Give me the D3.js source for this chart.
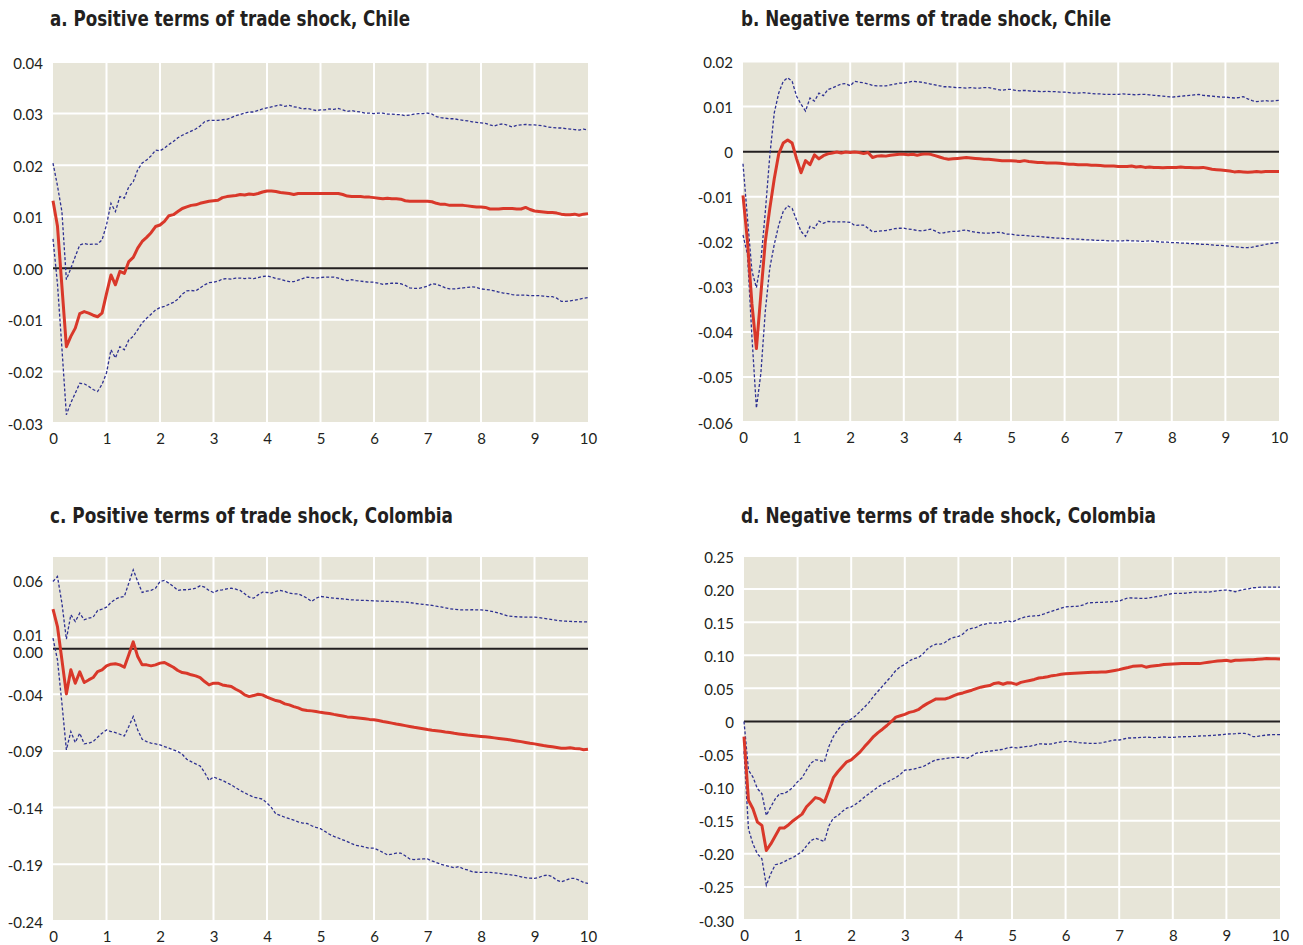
<!DOCTYPE html>
<html>
<head>
<meta charset="utf-8">
<script src="https://cdn.jsdelivr.net/npm/d3@7"></script>
<style>
  body { margin: 0; background: #ffffff; }
  svg { display: block; }
  .title { font-family: "Liberation Sans Narrow", "DejaVu Sans Condensed", "DejaVu Sans", sans-serif; font-stretch: condensed; font-weight: bold; font-size: 21px; fill: #231f20; }
  .tick text { font-family: Lato, "Open Sans", sans-serif; font-size: 15px; fill: #231f20; }
</style>
</head>
<body>
<svg id="chart" width="1303" height="945"></svg>
<script>
// Horizon in months after the shock (0 to 10 years)
const horizonMonths = d3.range(0, 121);
const yearTicks = [0, 1, 2, 3, 4, 5, 6, 7, 8, 9, 10];
const yearTickLabels = ["0", "1", "2", "3", "4", "5", "6", "7", "8", "9", "10"];

const titles = [
  "a. Positive terms of trade shock, Chile",
  "b. Negative terms of trade shock, Chile",
  "c. Positive terms of trade shock, Colombia",
  "d. Negative terms of trade shock, Colombia"
];

// y-axis ticks and their printed labels
const ticksA = [-0.03, -0.02, -0.01, 0.00, 0.01, 0.02, 0.03, 0.04];
const tickLabelsA = ["-0.03", "-0.02", "-0.01", "0.00", "0.01", "0.02", "0.03", "0.04"];
const ticksB = [-0.06, -0.05, -0.04, -0.03, -0.02, -0.01, 0, 0.01, 0.02];
const tickLabelsB = ["-0.06", "-0.05", "-0.04", "-0.03", "-0.02", "-0.01", "0", "0.01", "0.02"];
const ticksC = [-0.24, -0.19, -0.14, -0.09, -0.04, 0.00, 0.01, 0.06];
const tickLabelsC = ["-0.24", "-0.19", "-0.14", "-0.09", "-0.04", "0.00", "0.01", "0.06"];
const ticksD = [-0.30, -0.25, -0.20, -0.15, -0.10, -0.05, 0, 0.05, 0.10, 0.15, 0.20, 0.25];
const tickLabelsD = ["-0.30", "-0.25", "-0.20", "-0.15", "-0.10", "-0.05", "0", "0.05", "0.10", "0.15", "0.20", "0.25"];

// a. Positive shock, Chile: response and confidence bands
const chilePosResponse = [
  0.0131, 0.0082, -0.0035, -0.0152, -0.0132, -0.0116, -0.0088, -0.0084, -0.0087, -0.0091, -0.0094, -0.0087,
  -0.0049, -0.0013, -0.0032, -0.0006, -0.0010, 0.0013, 0.0021, 0.0039, 0.0052, 0.0060, 0.0069, 0.0081,
  0.0084, 0.0091, 0.0102, 0.0104, 0.0110, 0.0116, 0.0119, 0.0122, 0.0123, 0.0126, 0.0128, 0.0130,
  0.0131, 0.0132, 0.0137, 0.0139, 0.0140, 0.0141, 0.0143, 0.0142, 0.0144, 0.0143, 0.0145, 0.0148,
  0.0150, 0.0150, 0.0149, 0.0147, 0.0146, 0.0145, 0.0143, 0.0145, 0.0145, 0.0145, 0.0145, 0.0145,
  0.0145, 0.0145, 0.0145, 0.0145, 0.0145, 0.0143, 0.0140, 0.0139, 0.0139, 0.0139, 0.0138, 0.0138,
  0.0137, 0.0136, 0.0135, 0.0136, 0.0135, 0.0135, 0.0134, 0.0131, 0.0130, 0.0130, 0.0130, 0.0130,
  0.0130, 0.0129, 0.0126, 0.0124, 0.0124, 0.0122, 0.0122, 0.0122, 0.0122, 0.0121, 0.0120, 0.0119,
  0.0119, 0.0118, 0.0115, 0.0115, 0.0115, 0.0116, 0.0116, 0.0116, 0.0115, 0.0115, 0.0118, 0.0114,
  0.0111, 0.0110, 0.0109, 0.0108, 0.0108, 0.0107, 0.0105, 0.0104, 0.0104, 0.0105, 0.0103, 0.0105,
  0.0106
];
const chilePosUpper = [
  0.0204, 0.0160, 0.0110, -0.0022, 0.0000, 0.0023, 0.0045, 0.0048, 0.0046, 0.0047, 0.0047, 0.0055,
  0.0084, 0.0126, 0.0110, 0.0139, 0.0136, 0.0158, 0.0168, 0.0191, 0.0204, 0.0210, 0.0218, 0.0229,
  0.0228, 0.0233, 0.0240, 0.0246, 0.0253, 0.0258, 0.0262, 0.0266, 0.0270, 0.0276, 0.0284, 0.0287,
  0.0287, 0.0287, 0.0288, 0.0289, 0.0292, 0.0296, 0.0298, 0.0301, 0.0303, 0.0303, 0.0306, 0.0309,
  0.0311, 0.0313, 0.0315, 0.0317, 0.0314, 0.0316, 0.0313, 0.0312, 0.0309, 0.0310, 0.0308, 0.0306,
  0.0307, 0.0307, 0.0309, 0.0308, 0.0310, 0.0307, 0.0304, 0.0306, 0.0304, 0.0303, 0.0301, 0.0301,
  0.0300, 0.0301, 0.0301, 0.0299, 0.0299, 0.0298, 0.0298, 0.0296, 0.0297, 0.0299, 0.0300, 0.0300,
  0.0301, 0.0299, 0.0294, 0.0292, 0.0291, 0.0290, 0.0290, 0.0288, 0.0287, 0.0286, 0.0284, 0.0283,
  0.0282, 0.0281, 0.0278, 0.0276, 0.0279, 0.0280, 0.0277, 0.0274, 0.0277, 0.0278, 0.0279, 0.0278,
  0.0278, 0.0277, 0.0276, 0.0274, 0.0273, 0.0272, 0.0272, 0.0271, 0.0270, 0.0269, 0.0268, 0.0270,
  0.0268
];
const chilePosLower = [
  0.0057, -0.0030, -0.0155, -0.0284, -0.0261, -0.0242, -0.0223, -0.0224, -0.0229, -0.0235, -0.0239, -0.0225,
  -0.0203, -0.0158, -0.0174, -0.0152, -0.0158, -0.0139, -0.0132, -0.0119, -0.0106, -0.0097, -0.0089, -0.0081,
  -0.0076, -0.0074, -0.0070, -0.0066, -0.0060, -0.0050, -0.0044, -0.0043, -0.0044, -0.0038, -0.0032, -0.0028,
  -0.0027, -0.0025, -0.0021, -0.0020, -0.0021, -0.0019, -0.0019, -0.0020, -0.0019, -0.0020, -0.0018, -0.0016,
  -0.0015, -0.0017, -0.0020, -0.0021, -0.0024, -0.0026, -0.0026, -0.0023, -0.0020, -0.0017, -0.0018, -0.0019,
  -0.0018, -0.0017, -0.0017, -0.0017, -0.0019, -0.0022, -0.0024, -0.0022, -0.0024, -0.0025, -0.0026, -0.0027,
  -0.0027, -0.0029, -0.0031, -0.0030, -0.0029, -0.0029, -0.0030, -0.0033, -0.0038, -0.0039, -0.0039, -0.0037,
  -0.0035, -0.0030, -0.0031, -0.0034, -0.0038, -0.0040, -0.0040, -0.0039, -0.0038, -0.0037, -0.0036, -0.0037,
  -0.0040, -0.0041, -0.0042, -0.0044, -0.0046, -0.0048, -0.0049, -0.0051, -0.0052, -0.0052, -0.0052, -0.0053,
  -0.0053, -0.0053, -0.0054, -0.0055, -0.0055, -0.0058, -0.0064, -0.0064, -0.0063, -0.0062, -0.0060, -0.0058,
  -0.0057
];

// b. Negative shock, Chile
const chileNegResponse = [
  -0.0097, -0.0199, -0.0338, -0.0437, -0.0316, -0.0199, -0.0126, -0.0060, -0.0005, 0.0019, 0.0026, 0.0019,
  -0.0016, -0.0047, -0.0020, -0.0029, -0.0007, -0.0016, -0.0009, -0.0005, -0.0003, -0.0001, -0.0003, -0.0001,
  -0.0002, -0.0001, -0.0002, -0.0004, -0.0002, -0.0013, -0.0010, -0.0009, -0.0010, -0.0008, -0.0007, -0.0006,
  -0.0006, -0.0007, -0.0006, -0.0008, -0.0006, -0.0005, -0.0006, -0.0009, -0.0012, -0.0015, -0.0017, -0.0016,
  -0.0015, -0.0014, -0.0013, -0.0014, -0.0015, -0.0016, -0.0017, -0.0017, -0.0018, -0.0019, -0.0020, -0.0020,
  -0.0020, -0.0021, -0.0022, -0.0020, -0.0022, -0.0023, -0.0024, -0.0024, -0.0025, -0.0025, -0.0025, -0.0026,
  -0.0027, -0.0028, -0.0028, -0.0029, -0.0029, -0.0029, -0.0030, -0.0030, -0.0031, -0.0032, -0.0032, -0.0032,
  -0.0033, -0.0033, -0.0033, -0.0032, -0.0034, -0.0033, -0.0035, -0.0034, -0.0035, -0.0035, -0.0036, -0.0035,
  -0.0035, -0.0035, -0.0034, -0.0035, -0.0035, -0.0036, -0.0036, -0.0035, -0.0037, -0.0039, -0.0040, -0.0041,
  -0.0042, -0.0043, -0.0045, -0.0044, -0.0045, -0.0046, -0.0045, -0.0044, -0.0045, -0.0044, -0.0044, -0.0044,
  -0.0044
];
const chileNegUpper = [
  -0.0027, -0.0148, -0.0265, -0.0302, -0.0243, -0.0133, -0.0009, 0.0086, 0.0130, 0.0156, 0.0164, 0.0156,
  0.0123, 0.0105, 0.0090, 0.0119, 0.0112, 0.0130, 0.0124, 0.0138, 0.0141, 0.0146, 0.0150, 0.0151,
  0.0146, 0.0156, 0.0154, 0.0153, 0.0150, 0.0147, 0.0146, 0.0146, 0.0146, 0.0148, 0.0150, 0.0152,
  0.0152, 0.0154, 0.0156, 0.0155, 0.0154, 0.0152, 0.0150, 0.0148, 0.0146, 0.0144, 0.0144, 0.0143,
  0.0142, 0.0142, 0.0141, 0.0142, 0.0141, 0.0141, 0.0142, 0.0142, 0.0140, 0.0138, 0.0136, 0.0138,
  0.0138, 0.0136, 0.0135, 0.0136, 0.0135, 0.0134, 0.0134, 0.0133, 0.0134, 0.0133, 0.0133, 0.0132,
  0.0132, 0.0131, 0.0130, 0.0130, 0.0131, 0.0130, 0.0129, 0.0128, 0.0128, 0.0127, 0.0127, 0.0127,
  0.0127, 0.0128, 0.0127, 0.0127, 0.0126, 0.0127, 0.0127, 0.0126, 0.0125, 0.0124, 0.0123, 0.0122,
  0.0121, 0.0122, 0.0123, 0.0124, 0.0125, 0.0126, 0.0127, 0.0125, 0.0124, 0.0123, 0.0122, 0.0121,
  0.0121, 0.0120, 0.0119, 0.0120, 0.0122, 0.0117, 0.0113, 0.0111, 0.0112, 0.0113, 0.0112, 0.0113,
  0.0114
];
const chileNegLower = [
  -0.0185, -0.0228, -0.0411, -0.0569, -0.0492, -0.0353, -0.0258, -0.0206, -0.0163, -0.0133, -0.0120, -0.0126,
  -0.0152, -0.0177, -0.0188, -0.0166, -0.0170, -0.0154, -0.0159, -0.0155, -0.0156, -0.0156, -0.0156, -0.0156,
  -0.0157, -0.0164, -0.0163, -0.0163, -0.0170, -0.0178, -0.0177, -0.0176, -0.0175, -0.0173, -0.0171, -0.0170,
  -0.0170, -0.0172, -0.0173, -0.0175, -0.0176, -0.0174, -0.0172, -0.0176, -0.0181, -0.0180, -0.0178, -0.0177,
  -0.0177, -0.0175, -0.0174, -0.0177, -0.0179, -0.0180, -0.0181, -0.0181, -0.0180, -0.0179, -0.0180, -0.0183,
  -0.0183, -0.0185, -0.0186, -0.0186, -0.0187, -0.0188, -0.0188, -0.0189, -0.0190, -0.0191, -0.0192, -0.0192,
  -0.0193, -0.0193, -0.0194, -0.0194, -0.0195, -0.0196, -0.0196, -0.0197, -0.0197, -0.0197, -0.0198, -0.0198,
  -0.0198, -0.0198, -0.0197, -0.0198, -0.0198, -0.0199, -0.0199, -0.0198, -0.0199, -0.0200, -0.0201, -0.0201,
  -0.0202, -0.0202, -0.0203, -0.0203, -0.0204, -0.0204, -0.0205, -0.0206, -0.0206, -0.0207, -0.0208, -0.0208,
  -0.0209, -0.0210, -0.0211, -0.0212, -0.0213, -0.0213, -0.0212, -0.0210, -0.0208, -0.0206, -0.0204, -0.0203,
  -0.0202
];

// c. Positive shock, Colombia
const colombiaPosResponse = [
  0.0350, 0.0197, -0.0097, -0.0397, -0.0185, -0.0303, -0.0203, -0.0297, -0.0274, -0.0253, -0.0200, -0.0185,
  -0.0150, -0.0135, -0.0132, -0.0141, -0.0162, -0.0053, 0.0062, -0.0068, -0.0141, -0.0141, -0.0150, -0.0141,
  -0.0126, -0.0120, -0.0141, -0.0162, -0.0191, -0.0209, -0.0215, -0.0229, -0.0238, -0.0253, -0.0288, -0.0318,
  -0.0303, -0.0303, -0.0318, -0.0326, -0.0332, -0.0356, -0.0376, -0.0406, -0.0421, -0.0412, -0.0400, -0.0406,
  -0.0426, -0.0441, -0.0456, -0.0465, -0.0485, -0.0494, -0.0509, -0.0521, -0.0538, -0.0544, -0.0547, -0.0553,
  -0.0560, -0.0565, -0.0570, -0.0578, -0.0585, -0.0592, -0.0600, -0.0603, -0.0607, -0.0612, -0.0617, -0.0622,
  -0.0626, -0.0632, -0.0640, -0.0647, -0.0655, -0.0663, -0.0670, -0.0677, -0.0684, -0.0692, -0.0698, -0.0705,
  -0.0712, -0.0718, -0.0722, -0.0727, -0.0733, -0.0738, -0.0745, -0.0750, -0.0755, -0.0760, -0.0764, -0.0768,
  -0.0772, -0.0776, -0.0780, -0.0785, -0.0790, -0.0795, -0.0800, -0.0806, -0.0812, -0.0818, -0.0825, -0.0832,
  -0.0838, -0.0845, -0.0852, -0.0858, -0.0864, -0.0870, -0.0876, -0.0877, -0.0872, -0.0878, -0.0880, -0.0890,
  -0.0885
];
const colombiaPosUpper = [
  0.0594, 0.0638, 0.0403, 0.0085, 0.0300, 0.0241, 0.0315, 0.0256, 0.0271, 0.0279, 0.0338, 0.0350,
  0.0368, 0.0409, 0.0438, 0.0456, 0.0462, 0.0580, 0.0697, 0.0594, 0.0497, 0.0509, 0.0515, 0.0535,
  0.0594, 0.0603, 0.0579, 0.0550, 0.0515, 0.0521, 0.0521, 0.0526, 0.0535, 0.0556, 0.0544, 0.0515,
  0.0497, 0.0515, 0.0521, 0.0529, 0.0535, 0.0526, 0.0515, 0.0485, 0.0456, 0.0447, 0.0476, 0.0500,
  0.0497, 0.0491, 0.0506, 0.0515, 0.0506, 0.0491, 0.0485, 0.0485, 0.0468, 0.0447, 0.0418, 0.0447,
  0.0462, 0.0458, 0.0452, 0.0447, 0.0444, 0.0440, 0.0436, 0.0432, 0.0430, 0.0428, 0.0427, 0.0425,
  0.0423, 0.0421, 0.0420, 0.0419, 0.0418, 0.0416, 0.0414, 0.0412, 0.0408, 0.0402, 0.0396, 0.0392,
  0.0388, 0.0383, 0.0376, 0.0370, 0.0362, 0.0354, 0.0348, 0.0345, 0.0343, 0.0344, 0.0345, 0.0344,
  0.0344, 0.0340, 0.0334, 0.0326, 0.0316, 0.0302, 0.0290, 0.0286, 0.0283, 0.0281, 0.0280, 0.0280,
  0.0280, 0.0276, 0.0270, 0.0264, 0.0258, 0.0252, 0.0247, 0.0244, 0.0242, 0.0240, 0.0239, 0.0238,
  0.0238
];
const colombiaPosLower = [
  0.0094, -0.0097, -0.0480, -0.0891, -0.0729, -0.0826, -0.0744, -0.0838, -0.0832, -0.0818, -0.0779, -0.0744,
  -0.0715, -0.0729, -0.0738, -0.0753, -0.0768, -0.0685, -0.0597, -0.0715, -0.0797, -0.0818, -0.0832, -0.0838,
  -0.0847, -0.0862, -0.0876, -0.0891, -0.0905, -0.0930, -0.0974, -0.0995, -0.1015, -0.1033, -0.1090, -0.1160,
  -0.1130, -0.1145, -0.1160, -0.1180, -0.1200, -0.1225, -0.1249, -0.1270, -0.1290, -0.1308, -0.1315, -0.1325,
  -0.1359, -0.1400, -0.1456, -0.1470, -0.1485, -0.1498, -0.1510, -0.1525, -0.1536, -0.1540, -0.1560, -0.1575,
  -0.1586, -0.1610, -0.1635, -0.1654, -0.1668, -0.1684, -0.1700, -0.1718, -0.1734, -0.1740, -0.1750, -0.1758,
  -0.1758, -0.1775, -0.1795, -0.1817, -0.1810, -0.1802, -0.1802, -0.1825, -0.1853, -0.1858, -0.1855, -0.1853,
  -0.1853, -0.1870, -0.1885, -0.1900, -0.1910, -0.1920, -0.1930, -0.1920, -0.1940, -0.1950, -0.1965, -0.1970,
  -0.1971, -0.1972, -0.1972, -0.1975, -0.1980, -0.1985, -0.1989, -0.1995, -0.2000, -0.2010, -0.2018, -0.2022,
  -0.2024, -0.2015, -0.2000, -0.1995, -0.2010, -0.2040, -0.2054, -0.2040, -0.2025, -0.2024, -0.2040, -0.2060,
  -0.2069
];

// d. Negative shock, Colombia
const colombiaNegResponse = [
  -0.0228, -0.1190, -0.1320, -0.1520, -0.1570, -0.1950, -0.1850, -0.1730, -0.1610, -0.1610, -0.1560, -0.1500,
  -0.1450, -0.1400, -0.1290, -0.1220, -0.1150, -0.1170, -0.1220, -0.1040, -0.0850, -0.0760, -0.0685, -0.0610,
  -0.0580, -0.0520, -0.0460, -0.0380, -0.0305, -0.0228, -0.0168, -0.0117, -0.0061, 0.0000, 0.0066, 0.0086,
  0.0107, 0.0137, 0.0152, 0.0178, 0.0228, 0.0269, 0.0305, 0.0340, 0.0340, 0.0340, 0.0360, 0.0390,
  0.0416, 0.0431, 0.0452, 0.0472, 0.0497, 0.0518, 0.0533, 0.0543, 0.0574, 0.0584, 0.0563, 0.0584,
  0.0580, 0.0560, 0.0590, 0.0606, 0.0620, 0.0635, 0.0657, 0.0665, 0.0675, 0.0692, 0.0700, 0.0712,
  0.0722, 0.0725, 0.0728, 0.0732, 0.0735, 0.0738, 0.0742, 0.0744, 0.0746, 0.0747, 0.0758, 0.0770,
  0.0783, 0.0800, 0.0815, 0.0833, 0.0838, 0.0843, 0.0820, 0.0835, 0.0843, 0.0850, 0.0860, 0.0865,
  0.0869, 0.0872, 0.0874, 0.0874, 0.0874, 0.0874, 0.0874, 0.0885, 0.0895, 0.0904, 0.0912, 0.0918,
  0.0924, 0.0910, 0.0924, 0.0924, 0.0928, 0.0932, 0.0934, 0.0940, 0.0945, 0.0950, 0.0948, 0.0946,
  0.0944
];
const colombiaNegUpper = [
  0.0000, -0.0736, -0.0840, -0.1015, -0.1090, -0.1420, -0.1290, -0.1170, -0.1090, -0.1090, -0.1050, -0.0990,
  -0.0910, -0.0850, -0.0736, -0.0630, -0.0580, -0.0590, -0.0610, -0.0380, -0.0230, -0.0127, -0.0050, 0.0000,
  0.0036, 0.0086, 0.0152, 0.0218, 0.0289, 0.0380, 0.0457, 0.0533, 0.0609, 0.0685, 0.0772, 0.0827,
  0.0863, 0.0914, 0.0949, 0.0964, 0.1015, 0.1090, 0.1140, 0.1168, 0.1168, 0.1193, 0.1244, 0.1270,
  0.1284, 0.1320, 0.1386, 0.1406, 0.1421, 0.1457, 0.1472, 0.1487, 0.1487, 0.1487, 0.1497, 0.1523,
  0.1500, 0.1530, 0.1560, 0.1580, 0.1590, 0.1595, 0.1600, 0.1620, 0.1645, 0.1667, 0.1690, 0.1712,
  0.1732, 0.1735, 0.1738, 0.1742, 0.1760, 0.1793, 0.1795, 0.1798, 0.1800, 0.1803, 0.1808, 0.1813,
  0.1818, 0.1845, 0.1869, 0.1865, 0.1862, 0.1860, 0.1859, 0.1870, 0.1882, 0.1894, 0.1907, 0.1920,
  0.1934, 0.1934, 0.1934, 0.1940, 0.1948, 0.1955, 0.1955, 0.1955, 0.1955, 0.1965, 0.1975, 0.1982,
  0.1985, 0.1975, 0.1960, 0.1980, 0.1995, 0.2005, 0.2020, 0.2025, 0.2030, 0.2030, 0.2030, 0.2030,
  0.2030
];
const colombiaNegLower = [
  -0.0450, -0.1625, -0.1850, -0.2000, -0.2075, -0.2475, -0.2300, -0.2165, -0.2150, -0.2120, -0.2080, -0.2055,
  -0.2010, -0.1965, -0.1880, -0.1800, -0.1765, -0.1790, -0.1815, -0.1580, -0.1460, -0.1425, -0.1360, -0.1310,
  -0.1290, -0.1250, -0.1200, -0.1140, -0.1090, -0.1040, -0.0990, -0.0950, -0.0920, -0.0880, -0.0850, -0.0800,
  -0.0736, -0.0730, -0.0720, -0.0700, -0.0685, -0.0650, -0.0610, -0.0580, -0.0570, -0.0560, -0.0550, -0.0545,
  -0.0540, -0.0548, -0.0556, -0.0520, -0.0480, -0.0470, -0.0457, -0.0450, -0.0440, -0.0430, -0.0420, -0.0400,
  -0.0390, -0.0400, -0.0390, -0.0380, -0.0375, -0.0360, -0.0340, -0.0340, -0.0345, -0.0340, -0.0320, -0.0310,
  -0.0300, -0.0305, -0.0310, -0.0320, -0.0325, -0.0330, -0.0330, -0.0330, -0.0325, -0.0310, -0.0295, -0.0280,
  -0.0280, -0.0265, -0.0250, -0.0250, -0.0245, -0.0240, -0.0238, -0.0240, -0.0245, -0.0240, -0.0235, -0.0240,
  -0.0240, -0.0235, -0.0232, -0.0230, -0.0228, -0.0225, -0.0220, -0.0218, -0.0215, -0.0210, -0.0205, -0.0200,
  -0.0190, -0.0188, -0.0185, -0.0180, -0.0180, -0.0195, -0.0230, -0.0225, -0.0215, -0.0205, -0.0200, -0.0200,
  -0.0200
];

// Panel layout (plot area boxes in pixels) and y-domains
const panels = [
  { title: titles[0], left: 53, right: 588, top: 62, bottom: 423, yDomain: [-0.03, 0.04],
    ticks: ticksA, labels: tickLabelsA, response: chilePosResponse, upper: chilePosUpper, lower: chilePosLower,
    titleX: 50, titleY: 26, titleW: 360, labelNudge: {} },
  { title: titles[1], left: 743, right: 1279, top: 61.5, bottom: 422, yDomain: [-0.06, 0.02],
    ticks: ticksB, labels: tickLabelsB, response: chileNegResponse, upper: chileNegUpper, lower: chileNegLower,
    titleX: 741, titleY: 26, titleW: 370, labelNudge: {} },
  { title: titles[2], left: 53, right: 588, top: 557, bottom: 921, yDomain: [-0.24, 0.081],
    ticks: ticksC, labels: tickLabelsC, response: colombiaPosResponse, upper: colombiaPosUpper, lower: colombiaPosLower,
    titleX: 50, titleY: 523, titleW: 403, labelNudge: { "0.01": -3, "0.00": 3 } },
  { title: titles[3], left: 744, right: 1280, top: 556, bottom: 920, yDomain: [-0.30, 0.25],
    ticks: ticksD, labels: tickLabelsD, response: colombiaNegResponse, upper: colombiaNegUpper, lower: colombiaNegLower,
    titleX: 741, titleY: 523, titleW: 415, labelNudge: {} }
];

const svg = d3.select("#chart");

panels.forEach(p => {
  const x = d3.scaleLinear().domain([0, 10]).range([p.left, p.right]);
  const y = d3.scaleLinear().domain(p.yDomain).range([p.bottom, p.top]);
  const g = svg.append("g");

  // title
  g.append("text")
    .attr("class", "title")
    .attr("x", p.titleX)
    .attr("y", p.titleY)
    .attr("textLength", p.titleW)
    .attr("lengthAdjust", "spacingAndGlyphs")
    .text(p.title);

  // plot background
  g.append("rect")
    .attr("x", p.left).attr("y", p.top)
    .attr("width", p.right - p.left).attr("height", p.bottom - p.top)
    .attr("fill", "#e7e5d8");

  // white grid
  g.append("g").selectAll("line")
    .data(p.ticks.filter(t => t !== 0))
    .join("line")
    .attr("x1", p.left).attr("x2", p.right)
    .attr("y1", d => y(d)).attr("y2", d => y(d))
    .attr("stroke", "#ffffff").attr("stroke-width", 2);
  g.append("g").selectAll("line")
    .data(yearTicks.filter(t => t > 0 && t < 10))
    .join("line")
    .attr("x1", d => x(d)).attr("x2", d => x(d))
    .attr("y1", p.top).attr("y2", p.bottom)
    .attr("stroke", "#ffffff").attr("stroke-width", 2);

  // zero line
  g.append("line")
    .attr("x1", p.left).attr("x2", p.right)
    .attr("y1", y(0)).attr("y2", y(0))
    .attr("stroke", "#231f20").attr("stroke-width", 2);

  const line = d3.line()
    .x((d, i) => x(horizonMonths[i] / 12))
    .y(d => y(d));

  // confidence bands
  [p.upper, p.lower].forEach(band => {
    g.append("path")
      .datum(band)
      .attr("d", line)
      .attr("fill", "none")
      .attr("stroke", "#2e3192")
      .attr("stroke-width", 1.3)
      .attr("stroke-dasharray", "3,2");
  });

  // impulse response
  g.append("path")
    .datum(p.response)
    .attr("d", line)
    .attr("fill", "none")
    .attr("stroke", "#d9382a")
    .attr("stroke-width", 3)
    .attr("stroke-linejoin", "round");

  // y axis labels
  const yAxis = d3.axisLeft(y)
    .tickValues(p.ticks)
    .tickSize(0)
    .tickPadding(0)
    .tickFormat((d, i) => p.labels[i]);
  const ya = g.append("g")
    .attr("transform", `translate(${p.left - 10},0)`)
    .call(yAxis);
  ya.select(".domain").remove();
  ya.selectAll(".tick text").each(function(d, i) {
    const n = p.labelNudge[p.labels[i]] || 0;
    d3.select(this).attr("dy", null).attr("y", n).attr("dominant-baseline", "central");
  });

  // x axis labels
  const xAxis = d3.axisBottom(x)
    .tickValues(yearTicks)
    .tickSize(0)
    .tickPadding(0)
    .tickFormat((d, i) => yearTickLabels[i]);
  const xa = g.append("g")
    .attr("transform", `translate(0,${p.bottom + 10})`)
    .call(xAxis);
  xa.select(".domain").remove();
  xa.selectAll(".tick text").attr("dy", "0.75em");
});
</script>
</body>
</html>
